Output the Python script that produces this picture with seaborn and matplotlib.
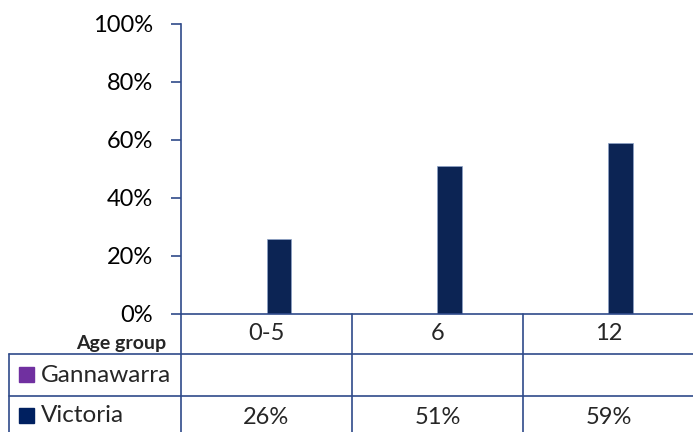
import matplotlib
matplotlib.use("Agg")
import matplotlib.pyplot as plt
import seaborn as sns
import pandas as pd
import numpy as np
from matplotlib.lines import Line2D
from matplotlib.patches import Rectangle

categories = ["0-5", "6", "12"]
series = ["Gannawarra", "Victoria"]
gannawarra = [np.nan, np.nan, np.nan]
victoria = [26, 51, 59]
colors = {"Gannawarra": "#7030A0", "Victoria": "#002060"}
yticks = [0, 20, 40, 60, 80, 100]

df = pd.DataFrame({
    "age": categories * 2,
    "series": ["Gannawarra"] * 3 + ["Victoria"] * 3,
    "value": gannawarra + victoria,
})

sns.set_theme(style="white")
plt.rcParams["font.family"] = ["Lato", "DejaVu Sans"]

W, H = 693, 432
fig = plt.figure(figsize=(W / 100, H / 100), dpi=100)

def fx(px):
    return px / W

def fy(py):
    return 1 - py / H

FS = 17
ax = fig.add_axes([fx(181), fy(314), fx(694) - fx(181), fy(24) - fy(314)])
sns.barplot(data=df, x="age", y="value", hue="series", order=categories,
            hue_order=series, palette=colors, width=0.286, ax=ax,
            edgecolor="#8EA3C8", linewidth=0.5, legend=False, errorbar=None)
ax.set_xlim(-0.5, 2.5)
ax.set_ylim(0, 100)
ax.set_yticks(yticks)
ax.set_yticklabels([f"{v}%" for v in yticks], fontsize=FS, color="black")
ax.set_xticks([])
ax.set_xlabel("")
ax.set_ylabel("")
line_c = "#2F4A8A"
for s in ["top", "right"]:
    ax.spines[s].set_visible(False)
ax.spines["left"].set_color(line_c)
ax.spines["bottom"].set_color(line_c)
ax.spines["left"].set_linewidth(1.2)
ax.spines["bottom"].set_linewidth(1.2)
ax.tick_params(axis="y", direction="out", length=7, width=1.2, color=line_c, pad=13, left=True)

# data table
lw = 1.2
def hline(y, x0, x1):
    fig.add_artist(Line2D([fx(x0), fx(x1)], [fy(y), fy(y)], color=line_c, lw=lw, transform=fig.transFigure))

def vline(x, y0, y1):
    fig.add_artist(Line2D([fx(x), fx(x)], [fy(y0), fy(y1)], color=line_c, lw=lw, transform=fig.transFigure))

col_edges = [181, 352, 523, 694]
hline(354, 9, 693)
hline(396, 9, 693)
vline(181, 314, 432)
vline(352, 314, 432)
vline(523, 314, 432)
vline(9, 354, 432)

centers = [(col_edges[i] + col_edges[i + 1]) / 2 for i in range(3)]
for c, lab in zip(centers, categories):
    fig.text(fx(c), fy(334), lab, ha="center", va="center", fontsize=FS)
fig.text(fx(166), fy(344), "Age group", ha="right", va="center", fontsize=14, fontweight="bold")

rows = [("Gannawarra", gannawarra, 375), ("Victoria", victoria, 416)]
for name, vals, yc in rows:
    fig.add_artist(Rectangle((fx(19), fy(yc + 7)), fx(15), fy(yc - 8) - fy(yc + 7),
                             color=colors[name], transform=fig.transFigure))
    fig.text(fx(41), fy(yc), name, ha="left", va="center", fontsize=17.5)
    for c, v in zip(centers, vals):
        if not np.isnan(v):
            fig.text(fx(c), fy(yc + 1), f"{v:.0f}%", ha="center", va="center", fontsize=FS)

fig.savefig("out.png", dpi=100, facecolor="white")
